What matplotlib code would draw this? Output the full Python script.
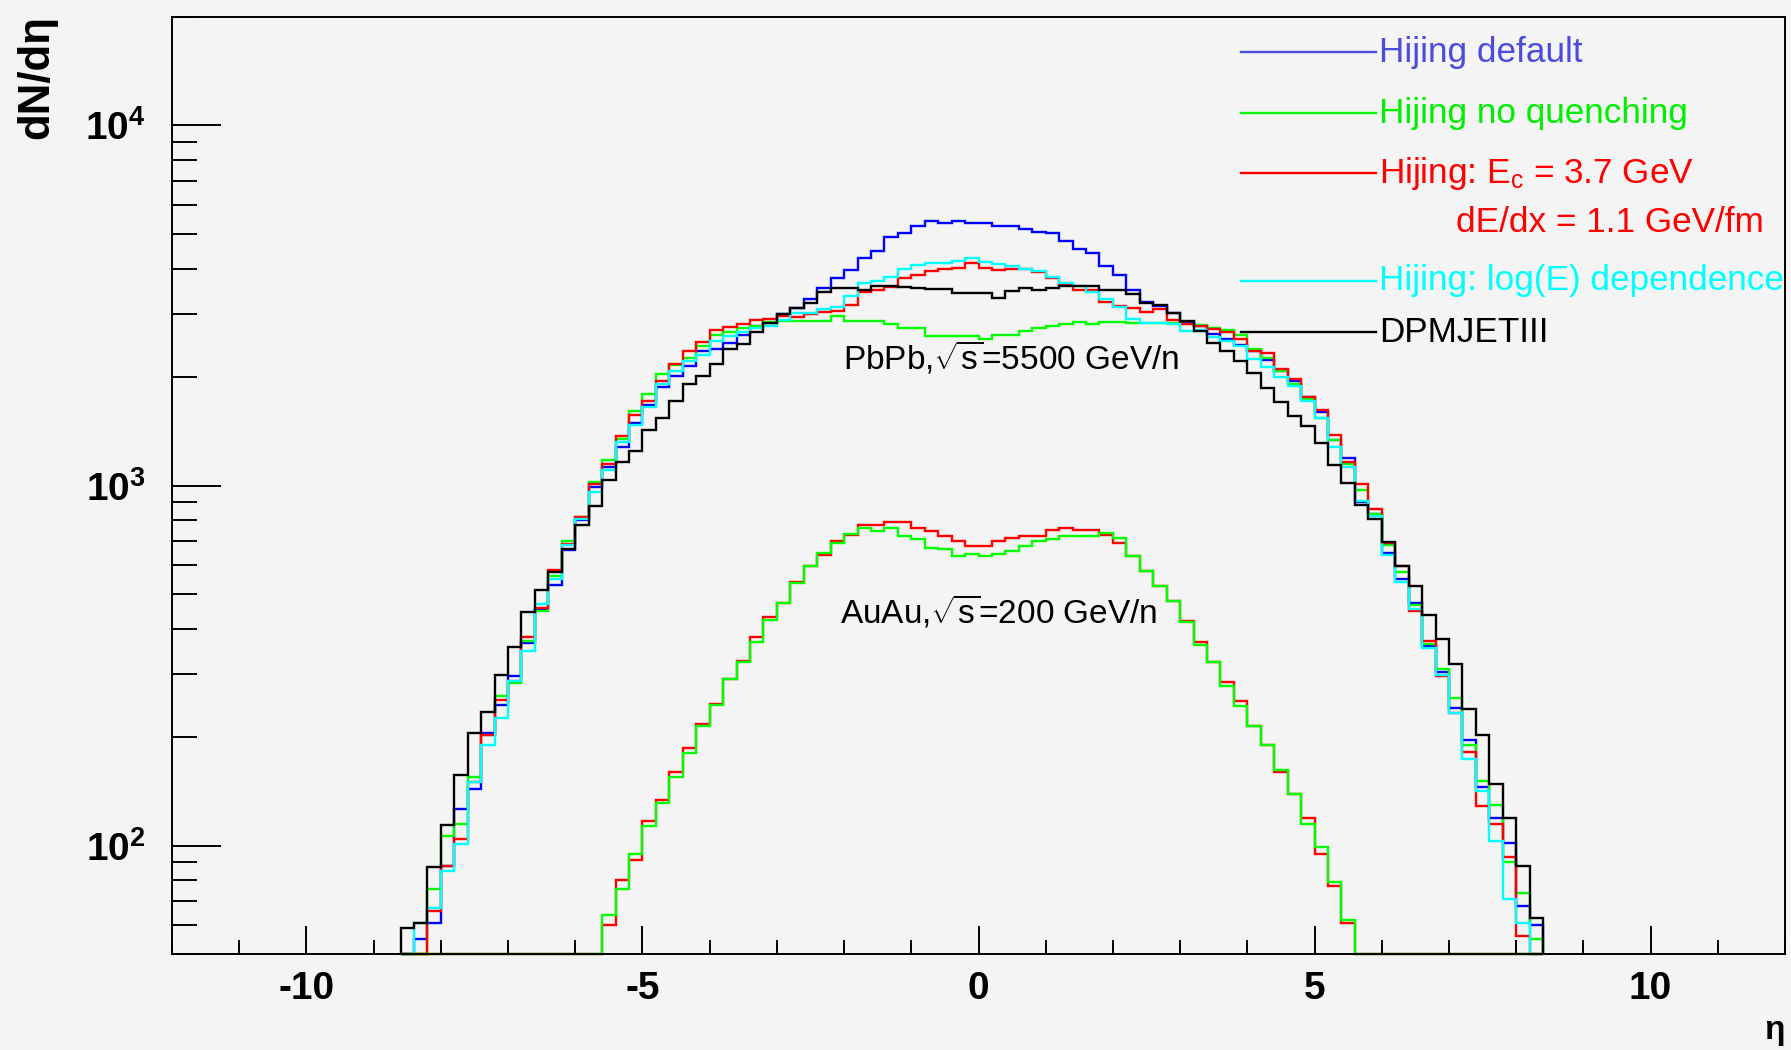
import numpy as np
import matplotlib
matplotlib.use('Agg')
import matplotlib.pyplot as plt
from matplotlib import font_manager
from matplotlib.ticker import MultipleLocator, LogLocator, NullFormatter

# a narrow face looks closest to the ROOT fonts; fall back to Liberation Sans
names = set(f.name for f in font_manager.fontManager.ttflist)
narrow = 'Liberation Sans Narrow' in names
FONT = 'Liberation Sans Narrow' if narrow else 'Liberation Sans'
scale = 1.0 if narrow else 0.9

plt.rcParams['font.family'] = [FONT, 'DejaVu Sans']
plt.rcParams['mathtext.fontset'] = 'custom'
plt.rcParams['mathtext.rm'] = FONT
plt.rcParams['mathtext.it'] = FONT + ':italic'
plt.rcParams['mathtext.bf'] = FONT + ':bold'
plt.rcParams['axes.unicode_minus'] = False

# eta bins of width 0.2, -8.6 .. 8.4
edges = np.round(np.arange(86) * 0.2 - 8.6, 1)

# PbPb, sqrt(s)=5500 GeV/n
hij_default = [0, 55, 61, 88, 126, 144, 205, 245, 295, 365,
               455, 529, 660, 800, 991, 1124, 1283, 1496, 1671, 1877,
               2018, 2150, 2360, 2400, 2490, 2626, 2772, 2830, 2985, 3114,
               3285, 3540, 3776, 3965, 4290, 4480, 4910, 5035, 5250, 5425,
               5350, 5425, 5350,
               5350, 5255, 5255, 5140, 5070, 5035, 4775, 4545, 4425, 4080,
               3830, 3500, 3228, 3160, 3020, 2845, 2775, 2627, 2555, 2450,
               2362, 2225, 2073, 1945, 1766, 1603, 1336, 1196, 900, 835,
               650, 551, 473, 359, 304, 241, 196, 145, 119, 102,
               68, 60]
hij_noquench = [0, 0, 76, 106, 115, 155, 203, 261, 283, 370,
                448, 562, 701, 818, 1023, 1178, 1345, 1611, 1800, 2046,
                2163, 2266, 2440, 2625, 2667, 2740, 2772, 2845, 2860, 2860,
                2860, 2860, 2950, 2860, 2860, 2860, 2812, 2740, 2740, 2600,
                2600, 2600, 2600,
                2553, 2625, 2625, 2685, 2730, 2772, 2800, 2845, 2800, 2845,
                2845, 2820, 2820, 2820, 2820, 2800, 2790, 2740, 2710, 2610,
                2389, 2264, 2084, 1918, 1741, 1537, 1337, 1148, 973, 835,
                684, 574, 467, 364, 310, 257, 190, 151, 130, 90,
                74, 55]
hij_ec = [0, 0, 66, 88, 104, 150, 203, 253, 287, 379,
          458, 582, 690, 815, 1010, 1148, 1368, 1567, 1718, 1946,
          2173, 2360, 2500, 2710, 2760, 2800, 2890, 2900, 2950, 2935,
          2990, 3030, 3050, 3162, 3443, 3500, 3562, 3776, 3830, 3937,
          3981, 4021, 4150,
          4021, 3960, 3980, 3980, 3917, 3776, 3600, 3500, 3500, 3227,
          3160, 3113, 3030, 3090, 2890, 2800, 2772, 2720, 2667, 2553,
          2362, 2340, 2113, 1972, 1766, 1616, 1383, 1165, 1008, 859,
          692, 596, 448, 369, 295, 234, 182, 129, 115, 93,
          56, 0]
hij_loge = [0, 61, 67, 85, 101, 150, 190, 226, 287, 346,
            469, 551, 684, 807, 959, 1103, 1319, 1474, 1648, 1919,
            2086, 2216, 2300, 2518, 2600, 2667, 2740, 2780, 2890, 3018,
            3018, 3085, 3135, 3357, 3656, 3697, 3800, 3981, 4084, 4150,
            4150, 4195, 4290,
            4169, 4110, 4067, 3981, 3937, 3800, 3656, 3581, 3443, 3290,
            3135, 2905, 2820, 2820, 2800, 2685, 2700, 2590, 2518, 2440,
            2250, 2140, 2000, 1892, 1718, 1537, 1283, 1127, 908, 824,
            641, 539, 454, 354, 298, 233, 174, 142, 103, 71,
            61, 0]
dpmjet = [59, 61, 87, 114, 157, 206, 235, 297, 357, 445,
          511, 574, 665, 779, 875, 1037, 1159, 1248, 1422, 1538,
          1718, 1919, 2012, 2178, 2387, 2479, 2667, 2830, 2985, 3113,
          3213, 3443, 3540, 3540, 3490, 3590, 3590, 3562, 3540, 3515,
          3515, 3425, 3425,
          3425, 3318, 3467, 3540, 3500, 3540, 3590, 3590, 3590, 3500,
          3500, 3395, 3213, 3162, 3018, 2860, 2684, 2490, 2362, 2215,
          2055, 1866, 1708, 1558, 1462, 1313, 1140, 1019, 883, 808,
          698, 599, 526, 438, 374, 319, 240, 203, 148, 119,
          88, 63]

# AuAu, sqrt(s)=200 GeV/n, bins -5.6 .. 5.6
auau_noquench = [64, 76, 95, 113, 131, 155, 181, 215, 245, 290,
                 324, 367, 423, 472, 537, 598, 648, 693, 734, 760,
                 747, 760, 723, 711, 671, 667, 637, 646,
                 637, 646, 659, 679, 700, 712, 723, 726, 726, 739,
                 716, 637, 580, 527, 477, 417, 361, 324, 277, 244,
                 215, 190, 162, 139, 115, 99, 79, 62]
auau_ec = [60, 80, 91, 117, 134, 160, 187, 218, 248, 290,
           325, 380, 432, 472, 539, 596, 640, 700, 728, 775,
           775, 790, 790, 760, 747, 726, 702, 679,
           679, 702, 716, 726, 726, 751, 763, 751, 751, 731,
           693, 637, 580, 527, 477, 420, 367, 324, 284, 252,
           215, 190, 160, 139, 119, 95, 77, 61]

labels = ['Hijing default', 'Hijing no quenching', r'Hijing: $\mathregular{E_c}$ = 3.7 GeV',
          'Hijing: log(E) dependence', 'DPMJETIII']
colors = ['#0000ff', '#00ff00', '#ff0000', '#00ffff', '#000000']
text_colors = ['#4b4bdc', '#00ee00', '#ff0000', '#00ffff', '#000000']

YMIN, YMAX = 50, 2e4
BG = '#f4f4f4'
LW = 1.7

fig = plt.figure(figsize=(17.91, 10.5), dpi=100, facecolor=BG)
ax = fig.add_axes([172/1791, 1-954/1050, (1785-172)/1791, (954-17)/1050])
ax.set_facecolor(BG)
ax.set_yscale('log')
ax.set_xlim(-12, 12)
ax.set_ylim(YMIN, YMAX)

def floor(v):
    v = np.asarray(v, dtype=float)
    return np.where(v > 0, v, YMIN)

pad_l = np.zeros(15)
pad_r = np.zeros(14)
series = [hij_default, hij_noquench, hij_ec, hij_loge, dpmjet]
for vals, c in zip(series, colors):
    ax.stairs(floor(vals), edges, baseline=YMIN, color=c, lw=LW, clip_on=False)
ax.stairs(floor(np.concatenate([pad_l, auau_ec, pad_r])), edges, baseline=YMIN,
          color=colors[2], lw=LW, clip_on=False)
ax.stairs(floor(np.concatenate([pad_l, auau_noquench, pad_r])), edges, baseline=YMIN,
          color=colors[1], lw=LW, clip_on=False)

# axes, ticks
for s in ax.spines.values():
    s.set_linewidth(1.4)
ax.set_xticks([-10, -5, 0, 5, 10])
ax.set_xticklabels(['-10', '-5', '0', '5', '10'], fontweight='bold', fontsize=31 * scale)
ax.xaxis.set_minor_locator(MultipleLocator(1))
ax.set_yticks([100, 1000, 10000])
ax.set_yticklabels([r'$\mathbf{10^{2}}$', r'$\mathbf{10^{3}}$', r'$\mathbf{10^{4}}$'],
                   fontsize=31 * scale)
ax.yaxis.set_minor_locator(LogLocator(base=10, subs=np.arange(2, 10)))
ax.yaxis.set_minor_formatter(NullFormatter())
ax.tick_params(axis='x', which='major', direction='in', length=20, width=1.4, top=False, pad=12)
ax.tick_params(axis='x', which='minor', direction='in', length=10, width=1.4, top=False)
ax.tick_params(axis='y', which='major', direction='in', length=35, width=1.4, right=False, pad=19)
ax.tick_params(axis='y', which='minor', direction='in', length=18, width=1.4, right=False)

fig.text(37/1791, 1-15/1050, 'dN/dη', rotation=90, ha='center', va='top',
         fontsize=35 * scale, fontweight='bold')
fig.text(1785/1791, 1-1030/1050, 'η', ha='right', va='center', fontsize=24, fontweight='bold')

# legend
leg_size = 28 if narrow else 25.3
leg_y = [0.9626, 0.8975, 0.8335, 0.7183, 0.6638]
for y, lab, c, tc in zip(leg_y, labels, colors, text_colors):
    ax.plot([0.6627, 0.7464], [y, y], color=c if c != '#0000ff' else tc, lw=LW,
            transform=ax.transAxes, clip_on=False)
    ax.text(0.7486, y, lab, color=tc, fontsize=leg_size, ha='left', va='center',
            transform=ax.transAxes)
ax.text(0.796, 0.7812, 'dE/dx = 1.1 GeV/fm', color='#ff0000', fontsize=leg_size,
        ha='left', va='center', transform=ax.transAxes)

note_size = 28 if narrow else 24
ax.text(0.416, 0.637, r'PbPb,$\mathregular{\sqrt{s}}$=5500 GeV/n', fontsize=note_size,
        ha='left', va='center', transform=ax.transAxes)
ax.text(0.414, 0.366, r'AuAu,$\mathregular{\sqrt{s}}$=200 GeV/n', fontsize=note_size,
        ha='left', va='center', transform=ax.transAxes)

fig.savefig('out.png', dpi=100, facecolor=BG)
